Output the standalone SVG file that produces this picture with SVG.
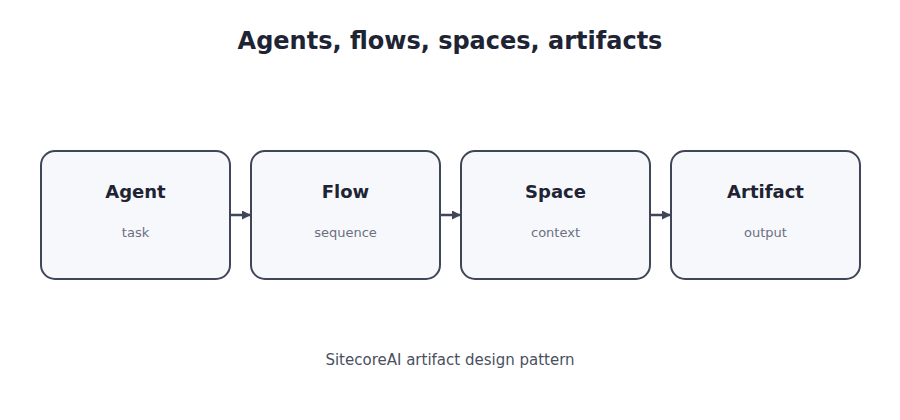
<svg xmlns="http://www.w3.org/2000/svg" width="900" height="420" viewBox="0 0 900 420">
  <style>
    .title { font-family: "DejaVu Sans", sans-serif; font-weight: bold; font-size: 24px; fill: #1e2433; text-anchor: middle; }
    .box { fill: #f7f8fc; stroke: #3f4658; stroke-width: 2; }
    .name { font-family: "DejaVu Sans", sans-serif; font-weight: bold; font-size: 18px; fill: #1e2433; text-anchor: middle; }
    .sub { font-family: "DejaVu Sans", sans-serif; font-size: 13px; fill: #6b7080; text-anchor: middle; }
    .foot { font-family: "DejaVu Sans", sans-serif; font-size: 15px; fill: #4a5060; text-anchor: middle; }
    .conn { stroke: #3f4658; stroke-width: 2.5; fill: none; }
  </style>
  <defs>
    <marker id="arr" viewBox="0 0 10 10" refX="10" refY="5" markerWidth="10" markerHeight="9" markerUnits="userSpaceOnUse" orient="auto">
      <path d="M0,0 L10,5 L0,10 Z" fill="#3f4658"/>
    </marker>
  </defs>
  <rect width="900" height="420" fill="#ffffff"/>
  <text class="title" x="450" y="49">Agents, flows, spaces, artifacts</text>

  <g id="connectors">
    <line class="conn" x1="230" y1="215" x2="251" y2="215" marker-end="url(#arr)"/>
    <line class="conn" x1="440" y1="215" x2="461" y2="215" marker-end="url(#arr)"/>
    <line class="conn" x1="650" y1="215" x2="671" y2="215" marker-end="url(#arr)"/>
  </g>

  <g id="agent">
    <rect class="box" x="41" y="151" width="189" height="128" rx="14"/>
    <text class="name" x="135.5" y="198">Agent</text>
    <text class="sub" x="135.5" y="237">task</text>
  </g>
  <g id="flow">
    <rect class="box" x="251" y="151" width="189" height="128" rx="14"/>
    <text class="name" x="345.5" y="198">Flow</text>
    <text class="sub" x="345.5" y="237">sequence</text>
  </g>
  <g id="space">
    <rect class="box" x="461" y="151" width="189" height="128" rx="14"/>
    <text class="name" x="555.5" y="198">Space</text>
    <text class="sub" x="555.5" y="237">context</text>
  </g>
  <g id="artifact">
    <rect class="box" x="671" y="151" width="189" height="128" rx="14"/>
    <text class="name" x="765.5" y="198">Artifact</text>
    <text class="sub" x="765.5" y="237">output</text>
  </g>

  <text class="foot" x="450" y="365">SitecoreAI artifact design pattern</text>
</svg>
